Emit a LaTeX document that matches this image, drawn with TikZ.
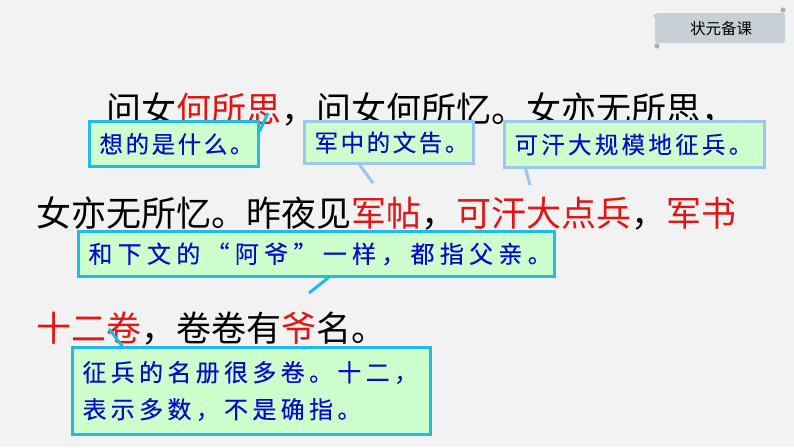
\documentclass[tikz,border=0pt]{standalone}
\usepackage{fontspec}
\setmainfont{Noto Sans CJK SC}
\newfontfamily\tightcjk[LetterSpace=11,FakeBold=0.25]{Noto Sans CJK SC}
\newfontfamily\midcjk[LetterSpace=14,FakeBold=0.25]{Noto Sans CJK SC}
\newfontfamily\widecjk[LetterSpace=18,FakeBold=0.25]{Noto Sans CJK SC}
\newfontfamily\widestcjk[LetterSpace=22,FakeBold=0.25]{Noto Sans CJK SC}
\definecolor{bgpage}{HTML}{F2F2F3}
\definecolor{cyanline}{HTML}{1FBDE6}
\definecolor{paleline}{HTML}{9CC6EC}
\definecolor{notefill}{HTML}{CCFFCC}
\definecolor{notetext}{HTML}{0A0AC8}
\definecolor{hilite}{HTML}{E01515}
\definecolor{tabfill}{HTML}{C7D0D4}
\definecolor{tabcurl}{HTML}{A9B1B6}
\newcommand{\hl}[1]{\textcolor{hilite}{#1}}
\newcommand{\fc}{\char"FF0C\relax}
\tikzset{
  x=1pt,y=-1pt,
  poem/.style={anchor=base west,inner sep=0pt,font=\fontsize{35}{35}\selectfont,text=black},
  note/.style={line width=3pt,fill=notefill,text=notetext,inner xsep=10pt,inner ysep=0pt,align=left,outer sep=0pt,text width=#1},
  notea/.style={note=#1,font=\tightcjk\fontsize{23.5}{30}\selectfont},
  notec/.style={note=#1,font=\midcjk\fontsize{23.5}{30}\selectfont},
  noteb/.style={note=#1,font=\widecjk\fontsize{24}{37}\selectfont},
  noted/.style={note=#1,font=\widestcjk\fontsize{24}{37}\selectfont},
  tail/.style={line width=3pt}
}
\begin{document}
\begin{tikzpicture}
\useasboundingbox (0,0) rectangle (794,447);
\fill[bgpage] (0,0) rectangle (794,447);
% tab
\fill[tabcurl] (783,10) circle (2.6);
\fill[tabcurl] (657,46) circle (2.6);
\fill[tabcurl] (656,16) circle (2);
\fill[tabfill,rounded corners=1.5pt] (655,13) -- (785,13) -- (785,43) -- (655,43) -- cycle;
\node[inner sep=0pt,font=\fontsize{15.5}{16}\selectfont,text=black] (tab) at (721,29) {状元备课};
% poem
\node[poem] (l1) at (106,122) {问女\hl{何所思}\fc 问女何所忆。女亦无所思\fc};
\node[poem] (l2) at (36,226) {女亦无所忆。昨夜见\hl{军帖}\fc\hl{可汗大点兵}\fc\hl{军书}};
\node[poem] (l3) at (36,341) {\hl{十二卷}\fc 卷卷有\hl{爷}名。};
% tail tips
\coordinate (t1) at (268,113);
\coordinate (t2) at (373,183);
\coordinate (t3) at (530,185);
\coordinate (t4) at (309,293);
\coordinate (t5) at (109,329);
% notes
\node[notea=149pt,draw=cyanline,minimum height=45pt] (b1) at (174,144) {想的是什么。};
\node[notea=149pt,draw=paleline,minimum height=42pt] (b2) at (389,142.5) {军中的文告。};
\node[notec=240pt,draw=paleline,minimum height=46pt] (b3) at (634.5,144.5) {可汗大规模地征兵。};
\node[noted=456pt,draw=cyanline,minimum height=45pt] (b4) at (316.5,254) {和下文的“阿爷”一样\fc 都指父亲。};
\node[noteb=338pt,draw=cyanline,minimum height=87pt] (b5) at (251.5,391) {征兵的名册很多卷。十二\fc\\表示多数\fc 不是确指。};
% tails
\draw[tail,cyanline] (b1.north east) ++(1,10) -- (t1);
\draw[tail,paleline] (b2.south west) ++(55,1) -- (t2);
\draw[tail,paleline] (b3.south west) ++(21,1) -- (t3);
\draw[tail,cyanline] (b4.south west) ++(250,1) -- (t4);
\draw[tail,cyanline] (b5.north west) ++(50,-1) -- (t5);
\end{tikzpicture}
\end{document}
